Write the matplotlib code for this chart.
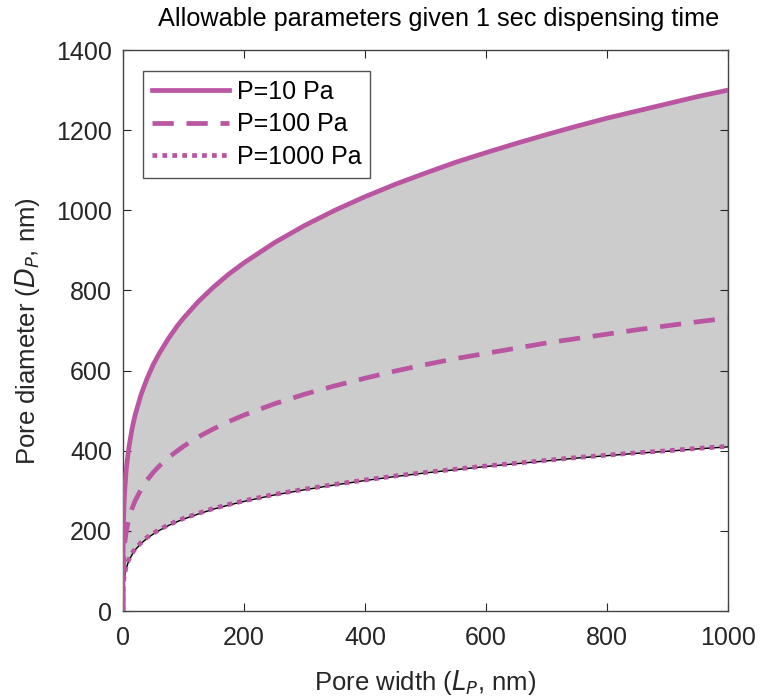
import matplotlib
matplotlib.use("Agg")
import matplotlib.pyplot as plt

plt.rcParams['font.family'] = ['Liberation Sans', 'DejaVu Sans']

L = [0, 0.02, 0.1, 0.5, 1, 2, 3, 5, 7, 10, 15, 20, 30, 40, 50, 60, 75, 90, 100, 125, 150, 175, 200,
     250, 300, 350, 400, 450, 500, 550, 600, 650, 700, 750, 800, 850, 900, 950, 1000]
D_p10 = [0, 87, 130, 194, 231, 275, 304, 346, 376, 411, 455, 489, 541, 581, 615, 643, 680, 712, 731, 773, 809, 841, 869,
         919, 962, 1000, 1034, 1065, 1093, 1120, 1144, 1167, 1189, 1210, 1230, 1248, 1266, 1284, 1300]
D_p100 = [0, 49, 73, 109, 130, 155, 171, 194, 211, 231, 256, 275, 304, 327, 346, 362, 383, 400, 411, 435, 455, 473, 489,
          517, 541, 562, 581, 599, 615, 630, 643, 656, 669, 680, 691, 702, 712, 722, 731]
D_p1000 = [0, 27, 41, 61, 73, 87, 96, 109, 119, 130, 144, 155, 171, 184, 194, 203, 215, 225, 231, 244, 256, 266, 275,
           291, 304, 316, 327, 337, 346, 354, 362, 369, 376, 383, 389, 395, 400, 406, 411]
labels = ['P=10 Pa', 'P=100 Pa', 'P=1000 Pa']

color = '#BA55A2'
dark = '#262626'

fig = plt.figure(figsize=(7.62, 6.98), dpi=100)
ax = fig.add_axes([0.1614, 0.1246, 0.794, 0.8037])

ax.fill_between(L, D_p1000, D_p10, facecolor='#CCCCCC', edgecolor='black', linewidth=1.0, zorder=1)
ax.plot(L, D_p10, '-', color=color, lw=3.4, label=labels[0], zorder=3)
ax.plot(L, D_p100, '--', color=color, lw=3.4, dashes=(4.5, 2.7), label=labels[1], zorder=3)
ax.plot(L, D_p1000, ':', color=color, lw=3.4, dashes=(1.0, 1.1), label=labels[2], zorder=3)

ax.set_xlim(0, 1000)
ax.set_ylim(0, 1400)
ax.set_xticks(range(0, 1001, 200))
ax.set_yticks(range(0, 1401, 200))
ax.tick_params(direction='in', top=True, right=True, labelsize=18, length=6, width=0.8, colors=dark)
ax.tick_params(axis='x', pad=11)
ax.tick_params(axis='y', pad=8)
for s in ax.spines.values():
    s.set_color('#444444')
    s.set_linewidth(1.0)

ax.set_xlabel('Pore width ($L_P$, nm)', fontsize=18.5, color=dark, labelpad=13)
ax.set_ylabel('Pore diameter ($D_P$, nm)', fontsize=18.5, color=dark, labelpad=10)
ax.set_title('Allowable parameters given 1 sec dispensing time', fontsize=18.2, color='black',
             pad=17, x=0.521)

leg = ax.legend(loc='upper left', fontsize=18, handlelength=3.1, frameon=True, fancybox=False,
                edgecolor=dark, borderpad=0.35, labelspacing=0.35, handletextpad=0.3,
                borderaxespad=0, bbox_to_anchor=(0.033, 0.963))
leg.get_frame().set_linewidth(1.0)

fig.savefig('out.png', dpi=100)
